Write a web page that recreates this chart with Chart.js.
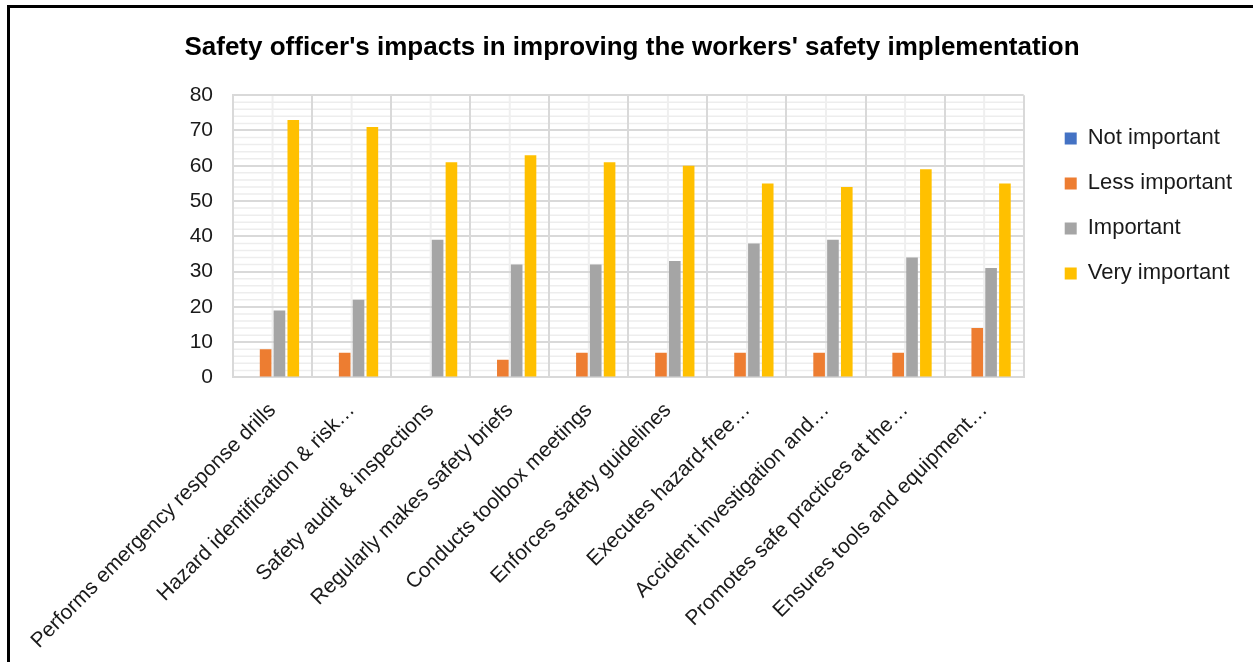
<!DOCTYPE html>
<html>
<head>
<meta charset="utf-8">
<title>Safety officer's impacts</title>
<script src="https://cdn.jsdelivr.net/npm/chart.js@4.4.1/dist/chart.umd.min.js"></script>
<style>
	html, body { margin: 0; padding: 0; background: #fff; }
	#wrap { position: relative; width: 1253px; height: 662px; }
	#frame { position: absolute; left: 7px; top: 5px; right: 0; bottom: 0; border-top: 3px solid #000; border-left: 3px solid #000; pointer-events: none; }
</style>
</head>
<body>
<div id="wrap">
	<canvas id="bar-canvas" width="1253" height="662"></canvas>
	<div id="frame"></div>
</div>
<script>
var categories = [
	"Performs emergency response drills",
	"Hazard identification & risk\u2026",
	"Safety audit & inspections",
	"Regularly makes safety briefs",
	"Conducts toolbox meetings",
	"Enforces safety guidelines",
	"Executes hazard-free\u2026",
	"Accident investigation and\u2026",
	"Promotes safe practices at the\u2026",
	"Ensures tools and equipment\u2026"
];

var notImportant  = [0, 0, 0, 0, 0, 0, 0, 0, 0, 0];
var lessImportant = [8, 7, 0, 5, 7, 7, 7, 7, 7, 14];
var important     = [19, 22, 39, 32, 32, 33, 38, 39, 34, 31];
var veryImportant = [73, 71, 61, 63, 61, 60, 55, 54, 59, 55];

var yMax = 80;
var yStep = 10;
var yMinorStep = 2;

var labelFont = "'Liberation Sans', Arial, sans-serif";

// light minor grid: every 2 units across, and a line through each category centre
var minorGrid = {
	id: 'minorGrid',
	beforeDraw: function(chart) {
		var ctx = chart.ctx;
		var area = chart.chartArea;
		var xs = chart.scales.x;
		var ys = chart.scales.y;
		ctx.save();
		ctx.strokeStyle = '#ededed';
		ctx.lineWidth = 1.5;
		for (var v = 0; v <= yMax; v += yMinorStep) {
			if (v % yStep === 0) continue;
			var py = ys.getPixelForValue(v);
			ctx.beginPath();
			ctx.moveTo(area.left, py);
			ctx.lineTo(area.right, py);
			ctx.stroke();
		}
		ctx.strokeStyle = '#efefef';
		ctx.lineWidth = 2;
		for (var i = 0; i < categories.length; i++) {
			var px = xs.getPixelForValue(i);
			ctx.beginPath();
			ctx.moveTo(px, area.top);
			ctx.lineTo(px, area.bottom);
			ctx.stroke();
		}
		ctx.restore();
	}
};

var chartdata = {
	labels: categories,
	datasets: [
		{ label: 'Not important', backgroundColor: '#4472C4', data: notImportant },
		{ label: 'Less important', backgroundColor: '#ED7D31', data: lessImportant },
		{ label: 'Important', backgroundColor: '#A5A5A5', data: important },
		{ label: 'Very important', backgroundColor: '#FFC000', data: veryImportant }
	]
};

var canvas = document.querySelector('#bar-canvas');

new Chart(canvas, {
	type: 'bar',
	data: chartdata,
	options: {
		responsive: false,
		animation: false,
		layout: { padding: { left: 22, right: 11, top: 0, bottom: -12 } },
		datasets: { bar: { categoryPercentage: 0.70, barPercentage: 0.84 } },
		plugins: {
			title: {
				display: true,
				text: "Safety officer's impacts in improving the workers' safety implementation",
				color: '#000',
				font: { family: "'Liberation Sans Narrow', 'Arial Narrow', 'Liberation Sans', Arial, sans-serif", size: 26, weight: 'bold' },
				padding: { top: 32, bottom: 32 }
			},
			legend: {
				position: 'right',
				align: 'start',
				fullSize: false,
				title: { display: true, text: '', font: { size: 1 }, padding: { top: 0, bottom: 8 } },
				labels: {
					boxWidth: 12,
					boxHeight: 12,
					padding: 23,
					color: '#1a1a1a',
					font: { family: labelFont, size: 22 }
				}
			},
			tooltip: { enabled: false }
		},
		scales: {
			x: {
				grid: { color: '#d9d9d9', lineWidth: 2, offset: true, drawTicks: false },
				border: { color: '#d9d9d9', width: 2 },
				ticks: {
					autoSkip: false,
					minRotation: 45,
					maxRotation: 45,
					padding: 22,
					color: '#1a1a1a',
					font: { family: labelFont, size: 21, lineHeight: 1 }
				}
			},
			y: {
				min: 0,
				max: yMax,
				grid: { color: '#d9d9d9', lineWidth: 2, drawTicks: false },
				border: { color: '#d9d9d9', width: 2 },
				ticks: {
					stepSize: yStep,
					padding: 20,
					color: '#1a1a1a',
					font: { family: labelFont, size: 21 }
				},
				afterFit: function(scale) { scale.width = 211; }
			},
			// empty spacer between plot and legend
			gap: {
				type: 'linear',
				position: 'right',
				display: true,
				grid: { display: false },
				border: { display: false },
				ticks: { display: false },
				afterFit: function(scale) { scale.width = 18; }
			}
		}
	},
	plugins: [minorGrid]
});
</script>
</body>
</html>
